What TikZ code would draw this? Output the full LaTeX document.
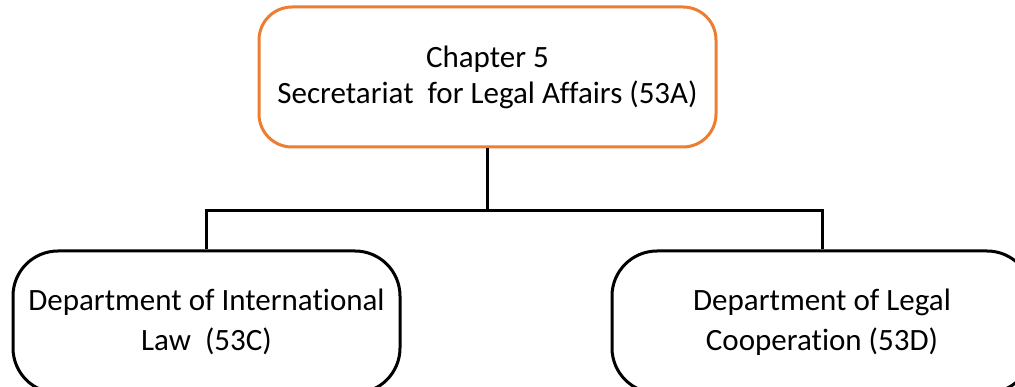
\documentclass[tikz,border=0pt]{standalone}
\usepackage{fontspec}
\setmainfont{Carlito}[Ligatures={NoCommon,NoRare,NoContextual}]
\definecolor{orng}{HTML}{ED7D31}
\begin{document}
\begin{tikzpicture}[x=1pt,y=-1pt,
  box/.style={draw=black, line width=3pt, align=center, inner sep=0pt,
    rounded corners=45pt, minimum height=142pt,
    font=\fontsize{31}{40}\selectfont},
  conn/.style={draw=black, line width=3pt}]
\useasboundingbox (0,0) rectangle (1015,387);
\node[box, draw=orng, rounded corners=33pt, minimum width=457pt, minimum height=140pt,
  font=\fontsize{31}{36}\selectfont] (top) at (487.5,77)
  {Chapter 5\\Secretariat\ \ for Legal Affairs (53A)};
\node[box, minimum width=387pt] (left) at (206.5,322)
  {Department of International\\Law\ \ (53C)};
\node[box, minimum width=420pt] (right) at (822,322)
  {Department of Legal\\Cooperation (53D)};
\coordinate (bus) at (0,210.5);
\draw[conn] (top.south) -- (top.south |- bus);
\draw[conn] (left.north) |- (top.south |- bus) -| (right.north);
\end{tikzpicture}
\end{document}
